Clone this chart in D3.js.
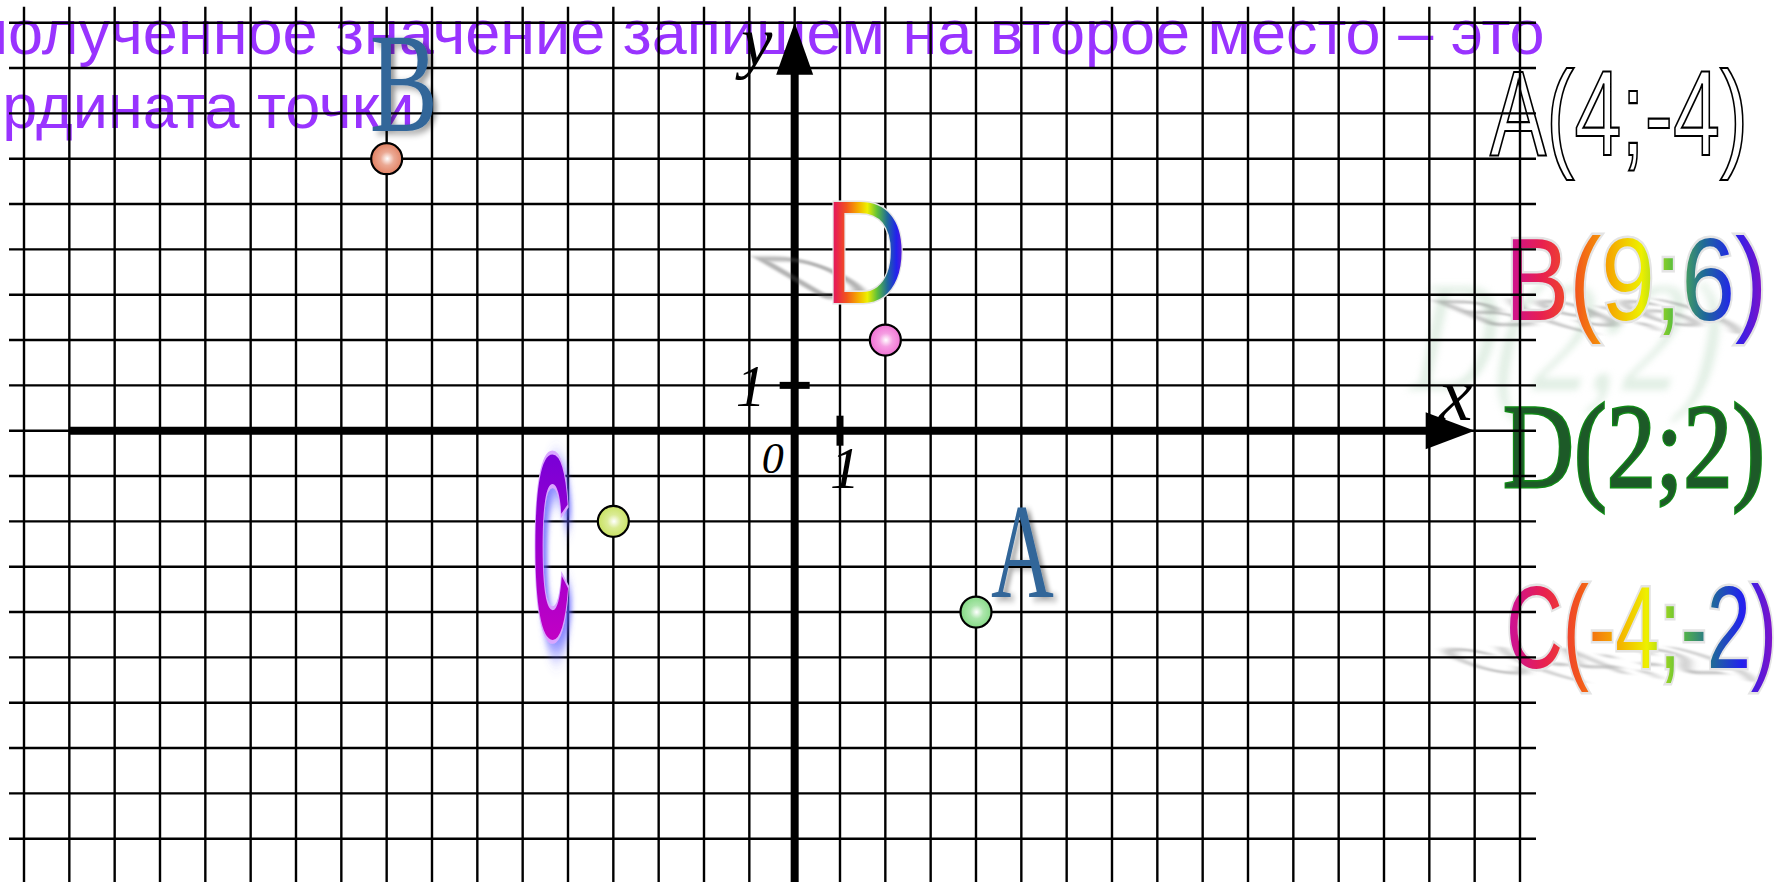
<!DOCTYPE html>
<head>
  <meta charset="utf-8">
  <style>
    body { margin: 0; background: #fff; }
    .grid line { stroke: #000; stroke-width: 2.4; }
    .axis { stroke: #000; stroke-width: 8; }
    .tick { stroke: #000; stroke-width: 7; }
    .axlabel { font-family: "Liberation Serif", "Times New Roman", serif; font-style: italic; fill: #000; }
    .caption { font-family: "Liberation Sans", Arial, sans-serif; font-size: 63px; fill: #9933ff; }
    .dot { stroke: #000; stroke-width: 2.2; }
  </style>
  <script src="https://d3js.org/d3.v7.min.js"></script>
</head>
<body>
<script>
  // data
  var pointNames = ["A", "B", "C", "D"];
  var pointX = [4, -9, -4, 2];
  var pointY = [-4, 6, -2, 2];
  var pointColors = ["#7fd87f", "#e07a5a", "#c6e05a", "#f06ad2"];
  var coordLabels = ["A(4;-4)", "B(9;6)", "D(2;2)", "C(-4;-2)"];
  var xTickLabels = ["1"];
  var yTickLabels = ["1"];
  var originLabel = "0";
  var axisNames = ["x", "y"];
  var captionLines = ["полученное значение запишем на второе место – это", "координата точки"];

  var width = 1787, height = 882;

  var x = d3.scaleLinear().domain([-17, 16]).range([24, 1520]);
  var y = d3.scaleLinear().domain([9, -9]).range([22.7, 838.7]);

  var svg = d3.select("body").append("svg")
    .attr("width", width)
    .attr("height", height);

  var defs = svg.append("defs");

  // rainbow for the coloured letters
  var rainbow = defs.append("linearGradient").attr("id", "rainbow");
  [["0", "#c8109c"], ["0.14", "#e82050"], ["0.27", "#f2561c"], ["0.4", "#f5a800"],
   ["0.52", "#eef000"], ["0.64", "#5cbf3c"], ["0.76", "#1f6a98"], ["0.87", "#2222ee"], ["1", "#8c10c4"]]
    .forEach(function(s) { rainbow.append("stop").attr("offset", s[0]).attr("stop-color", s[1]); });

  var purple = defs.append("linearGradient").attr("id", "purpleC")
    .attr("x1", 0).attr("y1", 0).attr("x2", 0).attr("y2", 1);
  purple.append("stop").attr("offset", 0).attr("stop-color", "#6400dc");
  purple.append("stop").attr("offset", 1).attr("stop-color", "#d600bf");

  pointColors.forEach(function(c, i) {
    var g = defs.append("radialGradient").attr("id", "ball" + i).attr("cx", "0.52").attr("cy", "0.5").attr("r", "0.55");
    g.append("stop").attr("offset", 0).attr("stop-color", "#ffffff");
    g.append("stop").attr("offset", 0.4).attr("stop-color", d3.interpolateRgb(c, "#fff")(0.35));
    g.append("stop").attr("offset", 1).attr("stop-color", c);
  });

  var soft = defs.append("filter").attr("id", "soft").attr("x", "-30%").attr("y", "-30%").attr("width", "160%").attr("height", "160%");
  soft.append("feGaussianBlur").attr("in", "SourceAlpha").attr("stdDeviation", 3.5).attr("result", "b");
  soft.append("feOffset").attr("in", "b").attr("dx", 6).attr("dy", 3).attr("result", "o");
  soft.append("feComponentTransfer").attr("in", "o").attr("result", "s")
    .append("feFuncA").attr("type", "linear").attr("slope", 0.4);
  var m1 = soft.append("feMerge");
  m1.append("feMergeNode").attr("in", "s");
  m1.append("feMergeNode").attr("in", "SourceGraphic");

  var glow = defs.append("filter").attr("id", "glow").attr("x", "-60%").attr("y", "-20%").attr("width", "220%").attr("height", "140%");
  glow.append("feGaussianBlur").attr("in", "SourceAlpha").attr("stdDeviation", 4).attr("result", "b");
  glow.append("feOffset").attr("in", "b").attr("dx", 7).attr("dy", 4).attr("result", "o");
  glow.append("feFlood").attr("flood-color", "#5c5cff").attr("flood-opacity", 0.75);
  glow.append("feComposite").attr("in2", "o").attr("operator", "in").attr("result", "s");
  var m2 = glow.append("feMerge");
  m2.append("feMergeNode").attr("in", "s");
  m2.append("feMergeNode").attr("in", "SourceGraphic");

  defs.append("filter").attr("id", "blur").attr("x", "-20%").attr("y", "-50%").attr("width", "140%").attr("height", "200%")
    .append("feGaussianBlur").attr("stdDeviation", 4);
  defs.append("filter").attr("id", "blur2").attr("x", "-20%").attr("y", "-20%").attr("width", "140%").attr("height", "140%")
    .append("feGaussianBlur").attr("stdDeviation", 3.5);

  // caption behind the grid
  svg.append("text").attr("class", "caption").attr("x", -26).attr("y", 54).text(captionLines[0]);
  svg.append("text").attr("class", "caption").attr("x", -96).attr("y", 128).text(captionLines[1]);

  // coordinate labels on the right
  var right = svg.append("g");
  var lab = [
    { x: 1490, y: 155, len: 258, size: 120, family: "Liberation Sans, Arial, sans-serif" },
    { x: 1505, y: 320, len: 262, size: 116, family: "Liberation Sans, Arial, sans-serif" },
    { x: 1503, y: 487, len: 262, size: 121, family: "Liberation Serif, Times New Roman, serif" },
    { x: 1506, y: 668, len: 271, size: 116, family: "Liberation Sans, Arial, sans-serif" }
  ];

  // faint ghost and cast shadows
  right.append("text")
    .attr("transform", "translate(1405,390) skewX(-12)")
    .attr("font-family", lab[2].family).attr("font-size", 158)
    .attr("textLength", 308).attr("lengthAdjust", "spacingAndGlyphs")
    .attr("fill", "#c4dfca").attr("opacity", 0.5).attr("filter", "url(#blur2)")
    .text(coordLabels[2]);
  [1, 3].forEach(function(i) {
    right.append("text")
      .attr("transform", "matrix(1,0,0.75,0.32," + (lab[i].x - 20) + "," + (lab[i].y + 6) + ")")
      .attr("font-family", lab[i].family).attr("font-size", lab[i].size)
      .attr("textLength", lab[i].len).attr("lengthAdjust", "spacingAndGlyphs")
      .attr("fill", "#666").attr("opacity", 0.45).attr("filter", "url(#blur)")
      .text(coordLabels[i]);
  });

  right.selectAll("text.coord")
    .data(coordLabels)
    .join("text")
    .attr("class", "coord")
    .attr("x", function(d, i) { return lab[i].x; })
    .attr("y", function(d, i) { return lab[i].y; })
    .attr("font-family", function(d, i) { return lab[i].family; })
    .attr("font-size", function(d, i) { return lab[i].size; })
    .attr("textLength", function(d, i) { return lab[i].len; })
    .attr("lengthAdjust", "spacingAndGlyphs")
    .attr("paint-order", function(d, i) { return i === 0 ? "normal" : "stroke"; })
    .attr("fill", function(d, i) { return i === 0 ? "#fff" : i === 2 ? "#1d5a28" : "url(#rainbow)"; })
    .attr("stroke", function(d, i) { return i === 0 ? "#000" : i === 2 ? "#118a16" : "#e4e4e4"; })
    .attr("stroke-width", function(d, i) { return i === 0 ? 2.2 : i === 2 ? 3 : 5; })
    .text(function(d) { return d; });

  // grid
  var grid = svg.append("g").attr("class", "grid");
  grid.selectAll("line.v")
    .data(d3.range(-17, 17))
    .join("line").attr("class", "v")
    .attr("x1", function(d) { return x(d); })
    .attr("x2", function(d) { return x(d); })
    .attr("y1", y(9) - 16)
    .attr("y2", height);
  grid.selectAll("line.h")
    .data(d3.range(-9, 10))
    .join("line").attr("class", "h")
    .attr("x1", x(-17) - 15)
    .attr("x2", x(16) + 16)
    .attr("y1", function(d) { return y(d); })
    .attr("y2", function(d) { return y(d); });

  // axes
  svg.append("line").attr("class", "axis")
    .attr("x1", x(-16)).attr("x2", x(15) - 40).attr("y1", y(0)).attr("y2", y(0));
  svg.append("line").attr("class", "axis")
    .attr("x1", x(0)).attr("x2", x(0)).attr("y1", height).attr("y2", y(9) + 40);
  svg.append("path")
    .attr("d", "M" + x(15) + "," + y(0) + "L" + (x(15) - 49) + "," + (y(0) - 18.5) + "L" + (x(15) - 49) + "," + (y(0) + 18.5) + "Z");
  svg.append("path")
    .attr("d", "M" + x(0) + "," + y(9) + "L" + (x(0) - 18.5) + "," + (y(9) + 52) + "L" + (x(0) + 18.5) + "," + (y(9) + 52) + "Z");

  // unit ticks
  svg.append("line").attr("class", "tick")
    .attr("x1", x(1)).attr("x2", x(1)).attr("y1", y(0) - 15).attr("y2", y(0) + 15);
  svg.append("line").attr("class", "tick")
    .attr("x1", x(0) - 15).attr("x2", x(0) + 15).attr("y1", y(1)).attr("y2", y(1));

  svg.append("text").attr("class", "axlabel").attr("text-anchor", "middle")
    .attr("x", x(1) + 5).attr("y", y(0) + 57).attr("font-size", 60).text(xTickLabels[0]);
  svg.append("text").attr("class", "axlabel").attr("text-anchor", "middle")
    .attr("x", x(0) - 44).attr("y", y(1) + 21).attr("font-size", 60).text(yTickLabels[0]);
  svg.append("text").attr("class", "axlabel").attr("text-anchor", "middle")
    .attr("x", x(0) - 22).attr("y", y(0) + 42).attr("font-size", 44).text(originLabel);
  svg.append("text").attr("class", "axlabel").attr("text-anchor", "middle")
    .attr("x", x(15) - 19).attr("y", y(0) - 11).attr("font-size", 76).text(axisNames[0]);
  svg.append("text").attr("class", "axlabel").attr("text-anchor", "middle")
    .attr("x", x(0) - 38).attr("y", y(9) + 42).attr("font-size", 70).text(axisNames[1]);

  // letters next to the points
  var letterStyle = {
    A: { dx: 15, dy: -15, sx: 0.64, sy: 1, size: 136, family: "Liberation Serif, serif", fill: "#336699", filter: "url(#soft)" },
    B: { dx: -17, dy: -28, sx: 0.72, sy: 1, size: 142, family: "Liberation Serif, serif", fill: "#336699", filter: "url(#soft)" },
    C: { dx: -80, dy: 116, sx: 0.5, sy: 2.62, size: 100, family: "Liberation Sans, Arial, sans-serif", weight: "bold", fill: "url(#purpleC)", stroke: "#d9a6ff", filter: "url(#glow)" },
    D: { dx: -61, dy: -37, sx: 0.78, sy: 1, size: 147, family: "Liberation Sans, Arial, sans-serif", fill: "url(#rainbow)", stroke: "#e6e6e6" }
  };

  // cast shadow of D
  var dStyle = letterStyle.D;
  svg.append("text")
    .attr("transform", "matrix(0.7,0,0.72,0.42," + (x(pointX[3]) + dStyle.dx - 8) + "," + (y(pointY[3]) + dStyle.dy - 4) + ")")
    .attr("font-family", dStyle.family).attr("font-size", dStyle.size)
    .attr("fill", "#555").attr("opacity", 0.45).attr("filter", "url(#blur)")
    .text(pointNames[3]);

  svg.selectAll("text.letter")
    .data(pointNames)
    .join("text")
    .attr("class", "letter")
    .attr("transform", function(d, i) {
      var s = letterStyle[d];
      return "translate(" + (x(pointX[i]) + s.dx) + "," + (y(pointY[i]) + s.dy) + ") scale(" + s.sx + "," + s.sy + ")";
    })
    .attr("font-family", function(d) { return letterStyle[d].family; })
    .attr("font-size", function(d) { return letterStyle[d].size; })
    .attr("font-weight", function(d) { return letterStyle[d].weight || "normal"; })
    .attr("fill", function(d) { return letterStyle[d].fill; })
    .attr("stroke", function(d) { return letterStyle[d].stroke || "none"; })
    .attr("stroke-width", 3)
    .attr("paint-order", "stroke")
    .attr("filter", function(d) { return letterStyle[d].filter || null; })
    .text(function(d) { return d; });

  // points
  svg.selectAll("circle.dot")
    .data(pointNames)
    .join("circle")
    .attr("class", "dot")
    .attr("cx", function(d, i) { return x(pointX[i]); })
    .attr("cy", function(d, i) { return y(pointY[i]); })
    .attr("r", 15.5)
    .attr("fill", function(d, i) { return "url(#ball" + i + ")"; });
</script>
</body>
</html>
